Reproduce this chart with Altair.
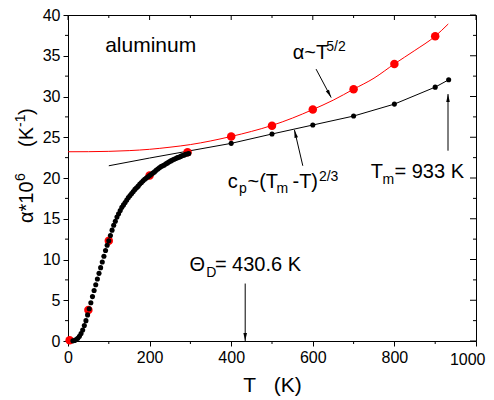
import altair as alt
import pandas as pd

# ---------------- data ----------------
# dense low-temperature measurements (black dots)
T_dense = [12, 16, 20, 24, 28, 32, 36, 40, 44, 48, 52, 56, 60, 64, 68, 72, 76, 80,
           84, 88, 92, 96, 100, 104, 108, 112, 116, 120, 124, 128, 132, 136, 140,
           144, 148, 152, 156, 160, 164, 168, 172, 176, 180, 184, 188, 192, 196,
           200, 204, 208, 212, 216, 220, 224, 228, 232, 236, 240, 244, 248, 252,
           256, 260, 264, 268, 272, 276, 280, 284, 288, 292, 296]
a_dense = [0.02, 0.07, 0.17, 0.33, 0.58, 0.92, 1.35, 1.9, 2.5, 3.2, 3.95, 4.7,
           5.45, 6.2, 6.9, 7.6, 8.3, 9.0, 9.7, 10.4, 11.1, 11.75, 12.3, 12.95,
           13.6, 14.2, 14.7, 15.2, 15.6, 16.0, 16.4, 16.7, 17.0, 17.3, 17.6,
           17.85, 18.1, 18.35, 18.6, 18.8, 19.0, 19.25, 19.45, 19.65, 19.85,
           20.0, 20.15, 20.3, 20.45, 20.6, 20.75, 20.95, 21.1, 21.25, 21.4, 21.5,
           21.6, 21.75, 21.85, 22.0, 22.1, 22.2, 22.3, 22.4, 22.5, 22.55, 22.65,
           22.75, 22.8, 22.9, 22.95, 23.0]

# high-temperature black points (connected by the c_p line)
T_hi = [400, 500, 600, 700, 800, 900, 933]
a_hi = [24.25, 25.4, 26.5, 27.6, 29.07, 31.15, 32.05]

# black c_p ~ (Tm-T)^(2/3) line
T_cp = [100, 200, 300, 400, 500, 600, 700, 800, 900, 933]
a_cp = [21.5, 22.45, 23.35, 24.25, 25.4, 26.5, 27.6, 29.07, 31.15, 32.05]

# red points
T_red = [4, 50, 100, 200, 293, 400, 500, 600, 700, 800, 900]
a_red = [0.1, 3.8, 12.3, 20.3, 23.15, 25.1, 26.4, 28.4, 30.9, 34.0, 37.4]

# red alpha ~ T^(5/2) curve
T_fit = [0, 50, 100, 150, 200, 250, 300, 350, 400, 450, 500, 550, 600, 650,
         700, 750, 800, 850, 900, 932]
a_fit = [23.22, 23.23, 23.27, 23.36, 23.52, 23.78, 24.1, 24.55, 25.1, 25.72,
         26.45, 27.35, 28.4, 29.55, 30.9, 32.25, 34.0, 35.65, 37.4, 38.9]

# tick values
x_major = [0, 200, 400, 600, 800, 1000]
x_minor = [100, 300, 500, 700, 900]
y_major = [0, 5, 10, 15, 20, 25, 30, 35, 40]
y_minor = [2.5, 7.5, 12.5, 17.5, 22.5, 27.5, 32.5, 37.5]
x_last_label = "1000"

# annotation texts (position in data units)
ann_text = ["aluminum", "α~T", "5/2",
            "c", "p", "~(T", "m", "-T)", "2/3",
            "T", "m", "= 933 K",
            "Θ", "D", "= 430.6 K"]
ann_T = [91, 551, 633,
         391.7, 419.1, 440, 511, 550.2, 615,
         741.9, 770.8, 800.2,
         297.8, 338.7, 360]
ann_a = [35.4, 34.6, 35.6,
         18.81, 18.14, 18.81, 18.14, 18.81, 19.67,
         20.04, 19.3, 20.04,
         8.55, 7.82, 8.55]
ann_size = [21, 20, 14,
            20, 14, 20, 14, 20, 14,
            20, 14, 20,
            20, 14, 20]

# annotation arrows: tail -> tip
arr_T1 = [608, 575.5, 931.4, 434.3]
arr_a1 = [33.36, 21.5, 23.35, 7.05]
arr_T2 = [645, 555, 931.4, 434.3]
arr_a2 = [29.87, 25.9, 30.3, 0.0]
arr_angle = [152, 347, 0, 180]

W, H = 408, 326
FONT = "Liberation Sans"
NB = "\u00a0"

# ---------------- tables ----------------
dense = pd.DataFrame({"T": T_dense, "a": a_dense})
hi = pd.DataFrame({"T": T_hi, "a": a_hi})
cp = pd.DataFrame({"T": T_cp, "a": a_cp})
red = pd.DataFrame({"T": T_red, "a": a_red})
fit = pd.DataFrame({"T": T_fit, "a": a_fit})
ann = pd.DataFrame({"T": ann_T, "a": ann_a, "text": ann_text, "size": ann_size})
arrows = pd.DataFrame({"T": arr_T1, "a": arr_a1, "T2": arr_T2, "a2": arr_a2,
                       "angle": arr_angle})

xs = alt.Scale(domain=[0, 1000], nice=False, zero=False)
ys = alt.Scale(domain=[0, 40], nice=False, zero=False)

X = alt.X("T:Q", scale=xs,
          axis=alt.Axis(values=x_major, title=f"T{NB}{NB}{NB}(K)", tickSize=5,
                        labelPadding=3, titlePadding=9, labelFontSize=16,
                        titleFontSize=21, titleFontWeight="normal",
                        labelFlush=False, format="d",
                        labelExpr="datum.value >= 1000 ? '' : datum.label"))
Y = alt.Y("a:Q", scale=ys,
          axis=alt.Axis(values=y_major, title="", tickSize=5, labelPadding=3,
                        labelFontSize=16, labelFlush=False))

# red curve
fit_line = alt.Chart(fit).mark_line(color="#ff0000", strokeWidth=1,
                                    interpolate="monotone").encode(x=X, y=Y)
cp_line = alt.Chart(cp).mark_line(color="black", strokeWidth=1).encode(
    x=alt.X("T:Q", scale=xs), y=alt.Y("a:Q", scale=ys))
red_pts = alt.Chart(red).mark_circle(color="#ff0000", size=72, opacity=1).encode(
    x=alt.X("T:Q", scale=xs), y=alt.Y("a:Q", scale=ys))
dense_pts = alt.Chart(dense).mark_circle(color="black", size=26, opacity=1).encode(
    x=alt.X("T:Q", scale=xs), y=alt.Y("a:Q", scale=ys))
hi_pts = alt.Chart(hi).mark_circle(color="black", size=26, opacity=1).encode(
    x=alt.X("T:Q", scale=xs), y=alt.Y("a:Q", scale=ys))

# annotations
ann_layer = alt.Chart(ann).mark_text(align="left", baseline="alphabetic",
                                     font=FONT, color="black").encode(
    x=alt.X("T:Q", scale=xs), y=alt.Y("a:Q", scale=ys),
    text="text:N", size=alt.Size("size:Q", scale=None))

arrow_lines = alt.Chart(arrows).mark_rule(color="black", strokeWidth=1).encode(
    x=alt.X("T:Q", scale=xs), y=alt.Y("a:Q", scale=ys), x2="T2:Q", y2="a2:Q")
arrow_heads = alt.Chart(arrows).mark_point(
    shape="M0,0L-0.45,2L0.45,2Z", filled=True, color="black", opacity=1,
    size=64).encode(
    x=alt.X("T2:Q", scale=xs), y=alt.Y("a2:Q", scale=ys),
    angle=alt.Angle("angle:Q", scale=None))

# last x tick label kept inside the page
last_lab = alt.Chart(pd.DataFrame({"text": [x_last_label]})).mark_text(
    align="right", baseline="alphabetic", font=FONT, fontSize=16,
    color="black").encode(x=alt.value(W + 9.5), y=alt.value(H + 24),
                          text="text:N")

# minor / mirrored ticks
xmin_df = pd.DataFrame({"T": x_minor})
xmaj_df = pd.DataFrame({"T": x_major})
ymin_df = pd.DataFrame({"a": y_minor})
ymaj_df = pd.DataFrame({"a": y_major})

bot_minor = alt.Chart(xmin_df).mark_rule(color="black").encode(
    x=alt.X("T:Q", scale=xs), y=alt.value(H), y2=alt.value(H + 3))
left_minor = alt.Chart(ymin_df).mark_rule(color="black").encode(
    y=alt.Y("a:Q", scale=ys), x=alt.value(0), x2=alt.value(-3))
top_ticks = alt.Chart(xmaj_df).mark_rule(color="black").encode(
    x=alt.X("T:Q", scale=xs), y=alt.value(0), y2=alt.value(5))
top_ticks_m = alt.Chart(xmin_df).mark_rule(color="black").encode(
    x=alt.X("T:Q", scale=xs), y=alt.value(0), y2=alt.value(3))
right_ticks = alt.Chart(ymaj_df).mark_rule(color="black").encode(
    y=alt.Y("a:Q", scale=ys), x=alt.value(W), x2=alt.value(W - 6))
right_ticks_m = alt.Chart(ymin_df).mark_rule(color="black").encode(
    y=alt.Y("a:Q", scale=ys), x=alt.value(W), x2=alt.value(W - 3))

# y-axis title pieces (rotated)
yt = pd.DataFrame({
    "text": ["α*10", "6", "(K", "-1", ")"],
    "px": [-35, -43, -35, -43, -35],
    "py": [208, 166, 132, 112, 100],
    "size": [20, 14, 20, 14, 20],
})
ytitle = alt.Chart(yt).mark_text(align="left", baseline="alphabetic", angle=270,
                                 font=FONT, color="black").encode(
    x=alt.X("px:Q", scale=None), y=alt.Y("py:Q", scale=None), text="text:N",
    size=alt.Size("size:Q", scale=None))

chart = alt.layer(
    fit_line, cp_line, red_pts, dense_pts, hi_pts,
    arrow_lines, arrow_heads, ann_layer, last_lab,
    bot_minor, left_minor, top_ticks, top_ticks_m, right_ticks, right_ticks_m,
    ytitle,
).properties(
    width=W, height=H,
    autosize=alt.AutoSizeParams(type="none"),
    padding={"left": 60, "top": 7, "right": 10, "bottom": 57},
).configure_view(
    stroke="black", strokeWidth=1
).configure_axis(
    grid=False, domainColor="black", tickColor="black", labelColor="black",
    titleColor="black", labelFont=FONT, titleFont=FONT, domainWidth=1,
    tickWidth=1
)

chart.save("out.html", embed_options={"renderer": "svg", "actions": False})
